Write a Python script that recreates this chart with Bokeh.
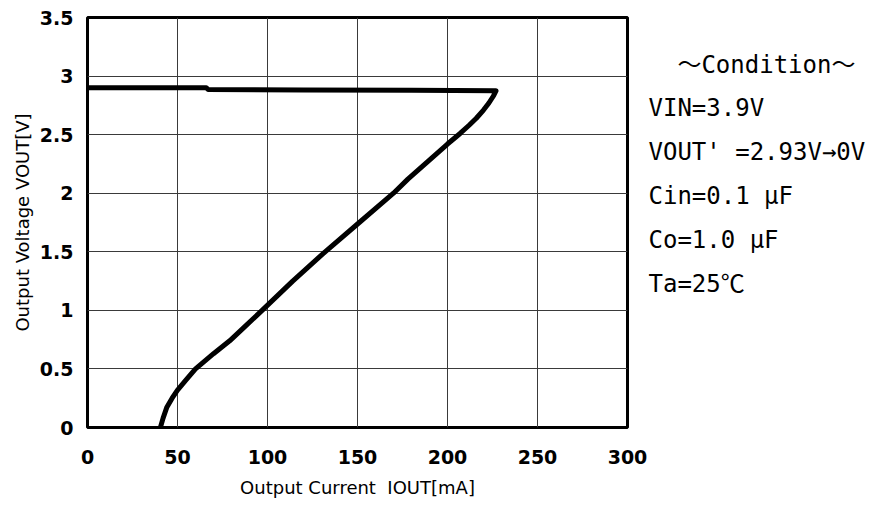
from bokeh.plotting import figure
from bokeh.models import Range1d, FixedTicker, LinearAxis
from bokeh.embed import file_html
from bokeh.resources import INLINE

# Data (IOUT in mA, VOUT in V)
iout = [0, 66, 67, 120, 180, 227, 225.5, 223, 220, 216, 212, 207, 200, 189, 178, 170,
        151, 132, 114, 97, 88, 79, 70, 60, 55, 50, 47, 44, 42, 40.5]
vout = [2.90, 2.90, 2.885, 2.882, 2.878, 2.875, 2.83, 2.77, 2.71, 2.64, 2.58, 2.51, 2.42,
        2.27, 2.12, 2.0, 1.75, 1.5, 1.25, 1.0, 0.87, 0.74, 0.63, 0.5, 0.41, 0.32,
        0.25, 0.17, 0.08, 0.0]

x_ticks = [0, 50, 100, 150, 200, 250, 300]
y_ticks = [0, 0.5, 1, 1.5, 2, 2.5, 3, 3.5]

condition_lines = ["\u00a0\u00a0\uff5eCondition\uff5e", "VIN=3.9V", "VOUT' =2.93V\u21920V",
                   "Cin=0.1 \u03bcF", "Co=1.0 \u03bcF", "Ta=25\u2103"]

W, H = 880, 500
FL, FR, FT, FB = 87, 627, 17, 427  # frame edges in page pixels
p = figure(width=W, height=H, output_backend="svg", toolbar_location=None,
           x_range=Range1d(0, 300), y_range=Range1d(0, 3.5),
           min_border_left=FL, min_border_right=W - FR, min_border_top=FT,
           min_border_bottom=H - FB)

p.line(iout, vout, line_color="black", line_width=5, line_join="round", line_cap="round")

for ax in (p.xaxis[0], p.yaxis[0]):
    ax.axis_line_color = None
    ax.major_tick_line_color = None
    ax.minor_tick_line_color = None
    ax.major_tick_out = 0
    ax.major_tick_in = 0
    ax.major_label_text_font = "DejaVu Sans"
    ax.major_label_text_font_style = "bold"
    ax.major_label_text_font_size = "19px"
    ax.major_label_text_color = "black"
    ax.axis_label_text_font = "DejaVu Sans"
    ax.axis_label_text_font_style = "normal"
    ax.axis_label_text_font_size = "18px"
    ax.axis_label_text_color = "black"

p.xaxis.ticker = FixedTicker(ticks=x_ticks)
p.yaxis.ticker = FixedTicker(ticks=y_ticks)
p.xaxis.major_label_standoff = 22
p.yaxis.major_label_standoff = 14
p.xaxis.axis_label = "Output Current\u00a0\u00a0IOUT[mA]"
p.yaxis.axis_label = "Output Voltage VOUT[V]"
p.xaxis.axis_label_standoff = 10
p.yaxis.axis_label_standoff = 4

p.xgrid.ticker = FixedTicker(ticks=x_ticks)
p.ygrid.ticker = FixedTicker(ticks=y_ticks)
p.grid.grid_line_color = "#3a3a3a"
p.grid.grid_line_width = 1

p.outline_line_color = "black"
p.outline_line_width = 3
p.background_fill_color = "white"
p.border_fill_color = "white"

# condition text block, drawn as the labels of a right-hand axis;
# line k sits at page y = 64 + 43.8*k
step, first = 43.8, 64
p.extra_y_ranges = {"cond": Range1d(start=(FB - first) / step, end=(FT - first) / step)}
cond_axis = LinearAxis(y_range_name="cond",
                       ticker=FixedTicker(ticks=list(range(len(condition_lines)))),
                       major_label_overrides={i: t for i, t in enumerate(condition_lines)})
cond_axis.axis_line_color = None
cond_axis.major_tick_line_color = None
cond_axis.minor_tick_line_color = None
cond_axis.major_tick_out = 0
cond_axis.major_tick_in = 0
cond_axis.major_label_standoff = 21
cond_axis.major_label_text_font = "DejaVu Sans Mono, Noto Sans CJK JP"
cond_axis.major_label_text_font_size = "24px"
cond_axis.major_label_text_color = "black"
p.add_layout(cond_axis, "right")

open("out.html", "w").write(file_html(p, INLINE))
